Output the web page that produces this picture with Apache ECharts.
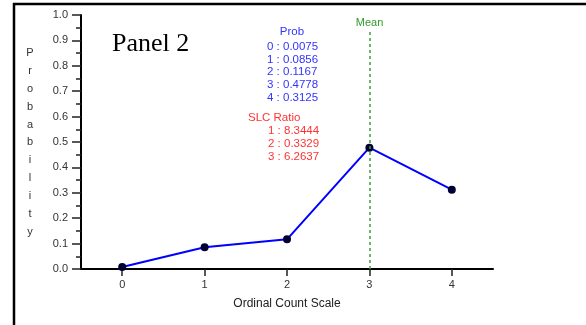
<!DOCTYPE html>
<html>
<head>
<meta charset="utf-8">
<script src="https://cdn.jsdelivr.net/npm/echarts@6/dist/echarts.min.js"></script>
<style>
  html, body { margin: 0; padding: 0; background: #fff; }
  #chart { width: 586px; height: 325px; }
</style>
</head>
<body>
<div id="chart"></div>
<script>
// Ordinal count categories and their probabilities
const counts = [0, 1, 2, 3, 4];
const probs = [0.0075, 0.0856, 0.1167, 0.4778, 0.3125];
// Successive likelihood ratios
const slcIndex = [1, 2, 3];
const slcRatios = [8.3444, 0.3329, 6.2637];
const yTicks = [0, 0.1, 0.2, 0.3, 0.4, 0.5, 0.6, 0.7, 0.8, 0.9, 1.0];

const mean = counts.reduce((s, k, i) => s + k * probs[i], 0);

const font = 'Liberation Sans, Arial, sans-serif';
const probLines = counts.map((k, i) => k + ' : ' + probs[i].toFixed(4));
const slcLines = slcIndex.map((k, i) => k + ' : ' + slcRatios[i].toFixed(4));

const chart = echarts.init(document.getElementById('chart'), null, { renderer: 'canvas' });

chart.setOption({
  animation: false,
  backgroundColor: '#fff',
  grid: { left: 81, right: 93, top: 15, bottom: 56 },
  xAxis: {
    type: 'value',
    min: -0.5,
    max: 4.5,
    splitLine: { show: false },
    axisLine: { show: true, onZero: false, lineStyle: { color: '#000', width: 2 } },
    axisTick: { show: true, customValues: counts, length: 7, lineStyle: { color: '#222', width: 1.5 } },
    axisLabel: { customValues: counts, margin: 10, color: '#333', fontFamily: font, fontSize: 11 },
    name: 'Ordinal Count Scale',
    nameLocation: 'middle',
    nameGap: 29,
    nameTextStyle: { color: '#222', fontFamily: font, fontSize: 12 }
  },
  yAxis: {
    type: 'value',
    min: 0,
    max: 1,
    interval: 0.1,
    splitLine: { show: false },
    axisLine: { show: true, onZero: false, lineStyle: { color: '#000', width: 2 } },
    axisTick: { show: true, length: 9, lineStyle: { color: '#222', width: 1.5 } },
    minorTick: { show: true, splitNumber: 2, length: 5, lineStyle: { color: '#222', width: 1.5 } },
    axisLabel: {
      margin: 13, color: '#333', fontFamily: font, fontSize: 11,
      formatter: v => v.toFixed(1)
    }
  },
  series: [{
    type: 'line',
    data: counts.map((k, i) => [k, probs[i]]),
    symbol: 'circle',
    symbolSize: 8,
    lineStyle: { color: '#0000ff', width: 2 },
    itemStyle: { color: '#000033' },
    z: 3,
    markLine: {
      silent: true,
      symbol: ['none', 'none'],
      lineStyle: { color: '#3aa03a', type: [3, 3], width: 1.5 },
      label: {
        show: true, position: 'end', formatter: 'Mean', distance: 2,
        color: '#2e9a2e', fontFamily: font, fontSize: 11
      },
      data: [[{ coord: [mean, 0] }, { coord: [mean, 0.94] }]]
    }
  }],
  graphic: [
    // outer frame (left and top edges)
    { type: 'line', shape: { x1: 14, y1: 3, x2: 14, y2: 325 }, style: { stroke: '#000', lineWidth: 2.5 } },
    { type: 'line', shape: { x1: 13, y1: 4, x2: 586, y2: 4 }, style: { stroke: '#000', lineWidth: 2.5 } },
    {
      type: 'text', left: 112, top: 31,
      style: { text: 'Panel 2', font: '26px "Liberation Serif", "Times New Roman", serif', fill: '#000' }
    },
    {
      type: 'text', x: 30, y: 44,
      style: {
        text: 'Probability'.split('').join('\n'), fill: '#333', align: 'center',
        font: '11px ' + font, lineHeight: 17.9
      }
    },
    {
      type: 'text', x: 292, y: 26,
      style: { text: 'Prob', fill: '#3333ff', align: 'center', font: '11.5px ' + font }
    },
    {
      type: 'text', x: 267, y: 40,
      style: { text: probLines.join('\n'), fill: '#3333ff', align: 'left', font: '11.5px ' + font, lineHeight: 12.9 }
    },
    {
      type: 'text', x: 248, y: 112,
      style: { text: 'SLC Ratio', fill: '#ff3333', align: 'left', font: '11.5px ' + font }
    },
    {
      type: 'text', x: 268, y: 125,
      style: { text: slcLines.join('\n'), fill: '#ff3333', align: 'left', font: '11.5px ' + font, lineHeight: 12.6 }
    }
  ]
});
</script>
</body>
</html>
